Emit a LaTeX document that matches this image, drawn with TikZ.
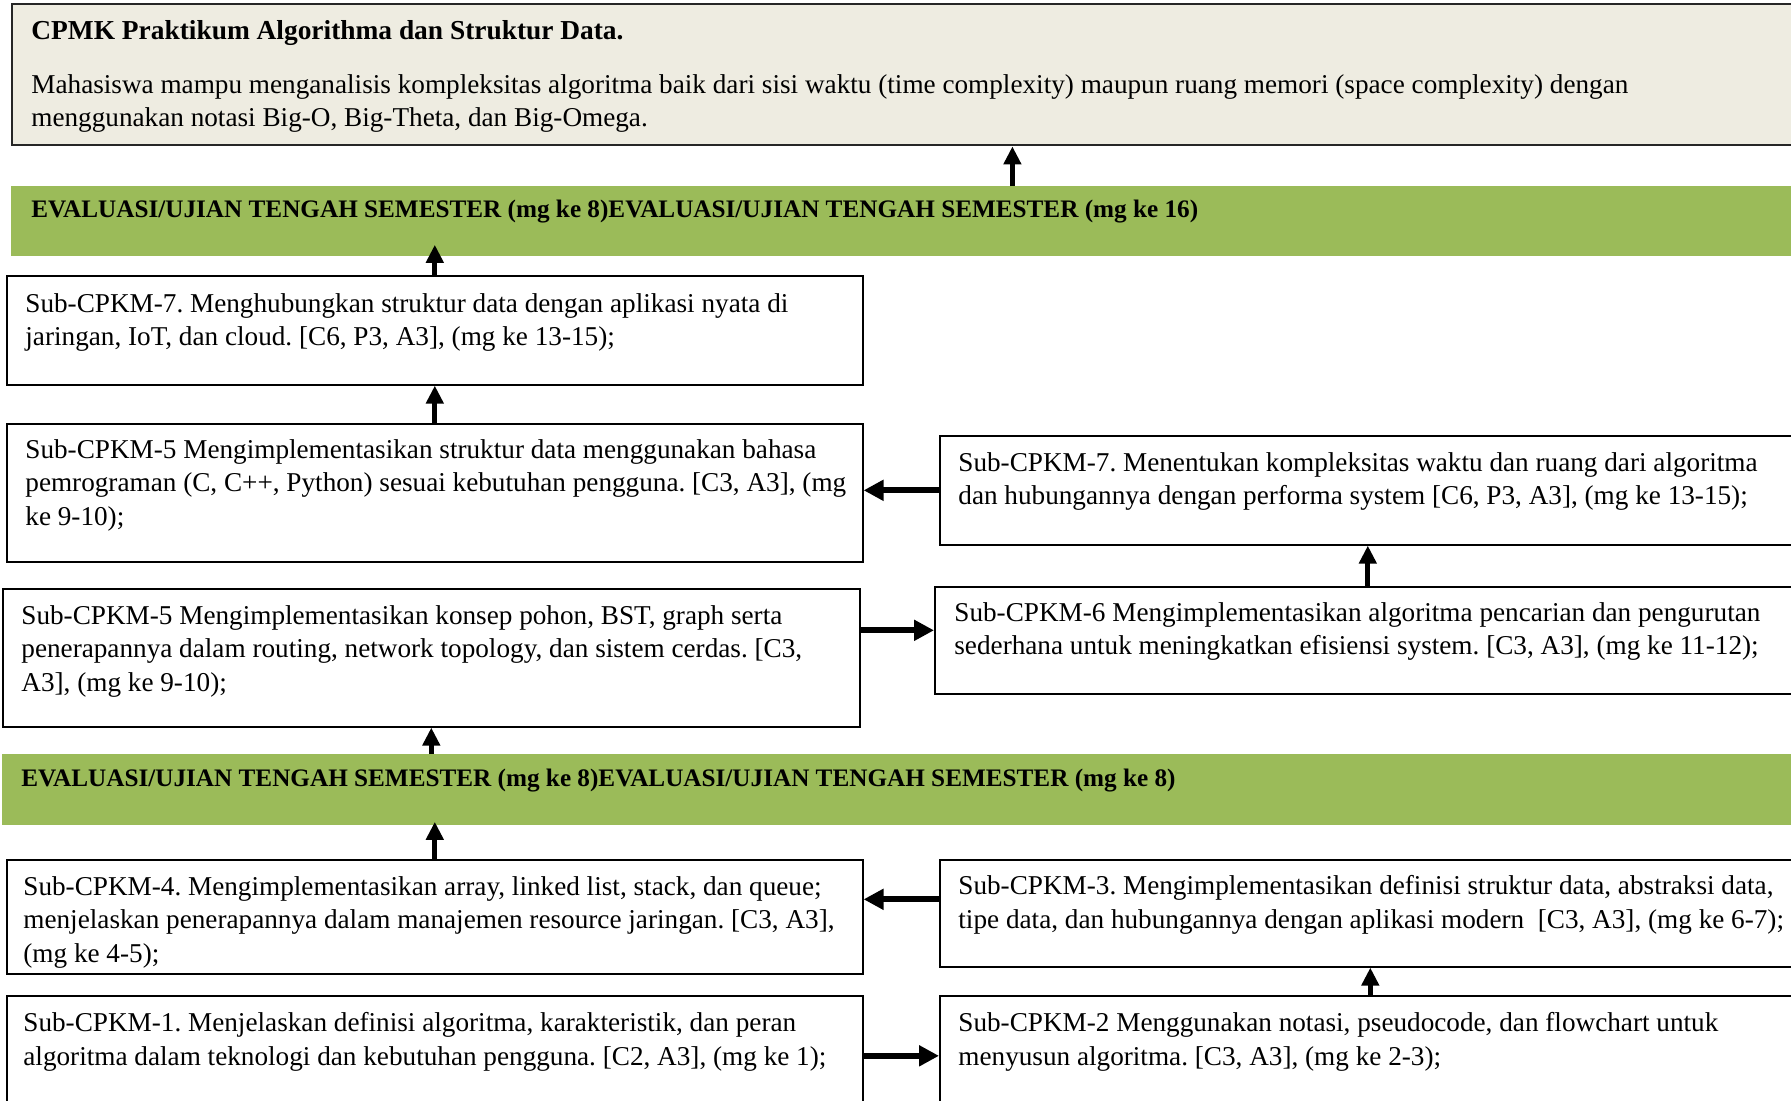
\documentclass[tikz,border=0pt]{standalone}
\usepackage{fontspec}
\setmainfont{Liberation Serif}
\usetikzlibrary{arrows.meta}
\frenchspacing
\definecolor{cpmkfill}{HTML}{EEECE1}
\definecolor{evalgreen}{HTML}{9BBB59}
\tikzset{
  subbox/.style={rectangle,draw,thick,inner sep=0,anchor=north west},
  subtext/.style={align=left,inner sep=0,anchor=north west,font=\fontsize{13.6}{16.85}\selectfont},
  bandtext/.style={subtext,font=\fontsize{12.6}{16.85}\selectfont\bfseries},
  bandbox/.style={rectangle,fill=evalgreen,inner sep=0,anchor=north west,minimum height=35pt},
  uparr/.style={-{Triangle[length=9pt,width=8.5pt]},line width=2.5pt},
  sidearr/.style={-{Triangle[length=10pt,width=10pt]},line width=3pt},
}
\begin{document}
\begin{tikzpicture}[x=0.5pt,y=-0.5pt]
    \path[use as bounding box,clip] (0,0) rectangle (1791,1100) ;

    % top box and green bands
    \node[subbox,fill=cpmkfill,draw=black!85,line width=1.2pt,minimum width=894.5pt,minimum height=70.5pt] (cpmk) at (11,3) {} ;
    \node[subtext,font=\fontsize{13.7}{16.85}\selectfont\bfseries] (cpmk_title) at (31,20) {CPMK Praktikum Algorithma dan Struktur Data.} ;
    \node[subtext] (cpmk_body) at (31,74) {Mahasiswa mampu menganalisis kompleksitas algoritma baik dari sisi waktu (time complexity) maupun ruang memori (space complexity) dengan\\menggunakan notasi Big-O, Big-Theta, dan Big-Omega.} ;
    \node[bandbox,minimum width=895pt] (band1) at (11,186) {} ;
    \node[bandtext] (band1_txt) at (31,200) {EVALUASI/UJIAN TENGAH SEMESTER (mg ke 8)EVALUASI/UJIAN TENGAH SEMESTER (mg ke 16)} ;
    \node[bandbox,minimum width=899pt,minimum height=35.5pt] (band2) at (2,754) {} ;
    \node[bandtext] (band2_txt) at (21,769) {EVALUASI/UJIAN TENGAH SEMESTER (mg ke 8)EVALUASI/UJIAN TENGAH SEMESTER (mg ke 8)} ;

    % left column
    \node[subbox,minimum width=428pt,minimum height=54.5pt] (s7a) at (6,275) {} ;
    \node[subtext] (s7a_txt) at (25,293) {Sub-CPKM-7. Menghubungkan struktur data dengan aplikasi nyata di\\jaringan, IoT, dan cloud. [C6, P3, A3], (mg ke 13-15);} ;
    \node[subbox,minimum width=428pt,minimum height=69pt] (s5a) at (6,423) {} ;
    \node[subtext] (s5a_txt) at (25,439) {Sub-CPKM-5 Mengimplementasikan struktur data menggunakan bahasa\\pemrograman (C, C++, Python) sesuai kebutuhan pengguna. [C3, A3], (mg\\ke 9-10);} ;
    \node[subbox,minimum width=428.5pt,minimum height=69pt] (s5b) at (2,588) {} ;
    \node[subtext] (s5b_txt) at (21,605) {Sub-CPKM-5 Mengimplementasikan konsep pohon, BST, graph serta\\penerapannya dalam routing, network topology, dan sistem cerdas. [C3,\\A3], (mg ke 9-10);} ;
    \node[subbox,minimum width=428pt,minimum height=57pt] (s4) at (6,859) {} ;
    \node[subtext] (s4_txt) at (23,876) {Sub-CPKM-4. Mengimplementasikan array, linked list, stack, dan queue;\\menjelaskan penerapannya dalam manajemen resource jaringan. [C3, A3],\\(mg ke 4-5);} ;
    \node[subbox,minimum width=428pt,minimum height=60pt] (s1) at (6,995) {} ;
    \node[subtext] (s1_txt) at (23,1012) {Sub-CPKM-1. Menjelaskan definisi algoritma, karakteristik, dan peran\\algoritma dalam teknologi dan kebutuhan pengguna. [C2, A3], (mg ke 1);} ;

    % right column
    \node[subbox,minimum width=430.5pt,minimum height=54.5pt] (s7b) at (939,435) {} ;
    \node[subtext] (s7b_txt) at (958,452) {Sub-CPKM-7. Menentukan kompleksitas waktu dan ruang dari algoritma\\dan hubungannya dengan performa system [C6, P3, A3], (mg ke 13-15);} ;
    \node[subbox,minimum width=433pt,minimum height=53.5pt] (s6) at (934,586) {} ;
    \node[subtext] (s6_txt) at (954,602) {Sub-CPKM-6 Mengimplementasikan algoritma pencarian dan pengurutan\\sederhana untuk meningkatkan efisiensi system. [C3, A3], (mg ke 11-12);} ;
    \node[subbox,minimum width=430.5pt,minimum height=53.5pt] (s3) at (939,859) {} ;
    \node[subtext] (s3_txt) at (958,875) {Sub-CPKM-3. Mengimplementasikan definisi struktur data, abstraksi data,\\tipe data, dan hubungannya dengan aplikasi modern\ \ [C3, A3], (mg ke 6-7);} ;
    \node[subbox,minimum width=430.5pt,minimum height=60pt] (s2) at (939,995) {} ;
    \node[subtext] (s2_txt) at (958,1012) {Sub-CPKM-2 Menggunakan notasi, pseudocode, dan flowchart untuk\\menyusun algoritma. [C3, A3], (mg ke 2-3);} ;

    % arrows
    \draw[uparr] ([xshift=53pt]band1.north) -- ([xshift=53pt]band1.north |- cpmk.south) ;
    \draw[uparr,shorten >=-6pt] (s7a.north) -- (s7a.north |- band1.south) ;
    \draw[uparr] (s5a.north) -- (s7a.south) ;
    \draw[sidearr] (s7b.west) -- (s7b.west -| s5a.east) ;
    \draw[uparr] (s6.north) -- (s6.north |- s7b.south) ;
    \draw[sidearr] ([yshift=5pt]s6.west -| s5b.east) -- ([yshift=5pt]s6.west) ;
    \draw[uparr] (band2.north -| s5b.south) -- (s5b.south) ;
    \draw[uparr,shorten >=-2pt] (s4.north) -- (s4.north |- band2.south) ;
    \draw[sidearr] ([yshift=7pt]s3.west) -- ([yshift=7pt]s3.west -| s4.east) ;
    \draw[sidearr] (s1.east) -- (s1.east -| s2.west) ;
    \draw[uparr] (s2.north) -- (s2.north |- s3.south) ;
\end{tikzpicture}
\end{document}
